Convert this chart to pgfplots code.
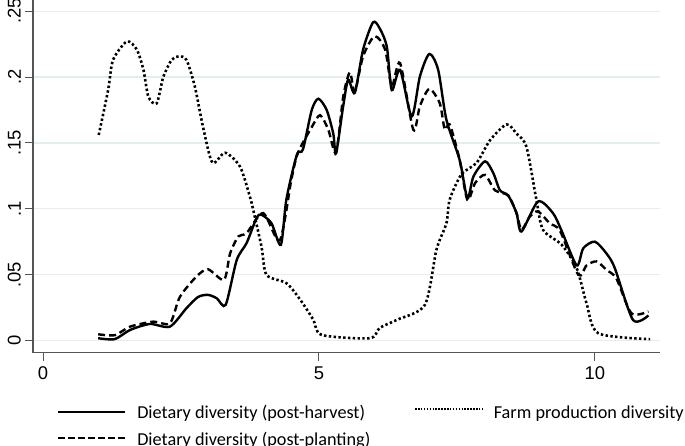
\documentclass[border=0pt]{standalone}
\usepackage{fontspec}
\setmainfont{Liberation Sans}
\newfontfamily\carlito{Carlito}
\usepackage{pgfplots}
\pgfplotsset{compat=1.18}
\definecolor{gridc}{RGB}{228,237,240}
\definecolor{axc}{RGB}{85,85,85}
\begin{document}
\begin{tikzpicture}
\begin{axis}[
  name=ax, at={(33bp,93.3bp)}, anchor=south west,
  scale only axis, width=627bp, height=353bp,
  xmin=-0.181, xmax=11.18, ymin=-0.0093, ymax=0.2587,
  axis x line*=bottom, axis y line*=left,
  xtick={0,5,10}, ytick={0,0.05,0.1,0.15,0.2,0.25},
  yticklabels={0,.05,.1,.15,.2,.25},
  yticklabel style={rotate=90, anchor=south, inner sep=4bp},
  xticklabel style={inner sep=6bp},
  ymajorgrids, grid style={color=gridc, line width=1.3bp},
  tick align=outside, major tick length=8bp,
  tick style={color=axc, line width=0.9bp},
  axis line style={color=axc, line width=1.3bp},
  ticklabel style={font=\fontsize{18.5}{20}\selectfont},
  /pgf/number format/assume math mode=true,
  legend columns=2,
  legend cell align=left,
  legend style={at={(0.033,-0.144)}, anchor=north west, draw=none, fill=none,
    font=\carlito\fontsize{18.3}{22}\selectfont,
    nodes={inner sep=0bp, text height=13bp, text depth=4bp},
    row sep=9.5bp,
    /tikz/every odd column/.append style={column sep=11bp},
    /tikz/every even column/.append style={column sep=44bp}},
]
\addplot[black, line width=2.4bp, smooth, tension=0.45,
  legend image code/.code={\draw[black, line width=2.4bp] (0bp,2.5bp) -- (67bp,2.5bp);}]
coordinates {
(1.00,0.0017)(1.30,0.001)(1.58,0.008)(1.94,0.0125)(2.30,0.0105)(2.60,0.0245)
(2.81,0.033)(2.99,0.0346)(3.15,0.032)(3.31,0.027)(3.51,0.061)(3.69,0.074)
(3.87,0.093)(3.96,0.0954)(4.14,0.089)(4.31,0.0726)(4.41,0.107)(4.60,0.141)
(4.71,0.145)(4.87,0.175)(4.99,0.1835)(5.14,0.175)(5.26,0.157)(5.31,0.142)
(5.44,0.178)(5.53,0.198)(5.65,0.188)(5.80,0.2208)(5.98,0.2415)(6.10,0.237)
(6.23,0.223)(6.32,0.190)(6.47,0.2055)(6.68,0.170)(6.83,0.2005)(7.00,0.2175)
(7.16,0.2055)(7.31,0.1675)(7.55,0.137)(7.69,0.108)(7.80,0.1245)(8.01,0.136)
(8.16,0.127)(8.28,0.114)(8.43,0.110)(8.58,0.0967)(8.67,0.0827)(8.97,0.1055)
(9.24,0.0967)(9.40,0.083)(9.67,0.057)(9.79,0.070)(10.0,0.075)(10.21,0.066)
(10.36,0.055)(10.69,0.0156)(10.97,0.019)
};
\addlegendentry{Dietary diversity (post-harvest)}
\addplot[black, line width=2.6bp, dash pattern=on 2.4bp off 2.4bp, smooth, tension=0.45,
  legend image code/.code={\draw[black, line width=1.5bp, dash pattern=on 1.5bp off 1.4bp] (0bp,5bp) -- (67bp,5bp);}]
coordinates {
(1.01,0.156)(1.18,0.190)(1.27,0.213)(1.52,0.227)(1.70,0.2208)(1.82,0.2055)
(1.91,0.185)(2.06,0.180)(2.18,0.200)(2.33,0.213)(2.46,0.2157)(2.60,0.213)
(2.75,0.193)(2.90,0.162)(3.07,0.135)(3.30,0.1425)(3.57,0.132)(3.75,0.109)
(3.81,0.099)(3.96,0.071)(4.05,0.0498)(4.41,0.0435)(4.66,0.031)(4.90,0.0156)
(5.05,0.0042)(5.92,0.0017)(6.10,0.0095)(6.41,0.0156)(6.92,0.027)(7.13,0.069)
(7.31,0.089)(7.37,0.107)(7.58,0.126)(7.86,0.135)(8.10,0.152)(8.40,0.164)
(8.58,0.157)(8.76,0.147)(8.94,0.107)(9.06,0.084)(9.40,0.0726)(9.67,0.055)
(9.85,0.028)(10.06,0.0055)(11.0,0.001)
};
\addlegendentry{Farm production diversity}
\addplot[black, line width=2.4bp, dash pattern=on 7bp off 4bp, smooth, tension=0.45,
  legend image code/.code={\draw[black, line width=2.4bp, dash pattern=on 7bp off 3bp] (0bp,2.5bp) -- (67bp,2.5bp);}]
coordinates {
(1.00,0.0047)(1.30,0.004)(1.58,0.0105)(2.00,0.0143)(2.30,0.013)(2.48,0.033)
(2.78,0.0485)(2.99,0.054)(3.28,0.046)(3.39,0.066)(3.54,0.079)(3.69,0.0815)
(3.99,0.0967)(4.29,0.076)(4.50,0.122)(4.62,0.1425)(4.87,0.162)(5.02,0.171)
(5.17,0.160)(5.31,0.1425)(5.44,0.185)(5.56,0.2035)(5.65,0.189)(5.80,0.2157)
(6.01,0.231)(6.20,0.2207)(6.32,0.193)(6.47,0.2106)(6.71,0.160)(6.83,0.178)
(7.00,0.191)(7.19,0.180)(7.28,0.160)(7.37,0.164)(7.55,0.137)(7.69,0.1067)
(7.83,0.1195)(8.01,0.1257)(8.19,0.114)(8.43,0.110)(8.58,0.0967)(8.67,0.084)
(8.82,0.094)(8.97,0.098)(9.18,0.089)(9.37,0.083)(9.70,0.0498)(9.85,0.057)
(10.03,0.060)(10.21,0.0536)(10.39,0.047)(10.66,0.0207)(10.97,0.022)
};
\addlegendentry{Dietary diversity (post-planting)}
\end{axis}
\pgfresetboundingbox
\useasboundingbox (0bp,0bp) rectangle (685bp,446bp);
\end{tikzpicture}
\end{document}
